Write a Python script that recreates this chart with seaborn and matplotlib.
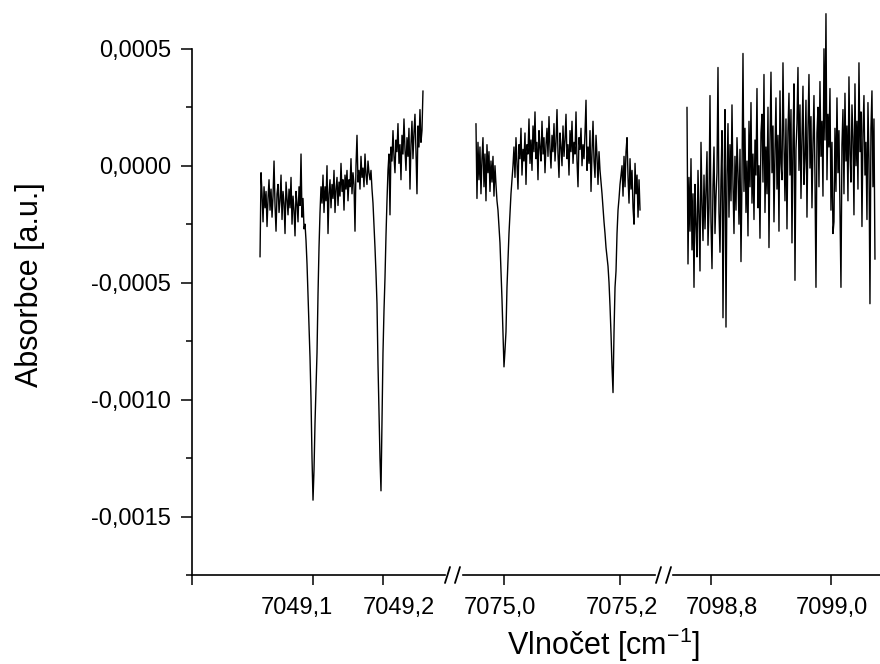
import numpy as np
import pandas as pd
import matplotlib
matplotlib.use("Agg")
import matplotlib.pyplot as plt
from matplotlib.lines import Line2D
from matplotlib.ticker import FixedLocator, FuncFormatter
from matplotlib.transforms import ScaledTranslation
import seaborn as sns

# Absorbance values in units of 1e-4, one list per measured window
SCALE = 1e-4

seg1_range = (7049.0243, 7049.2571)
seg1_abs = [
    -3.9,
    -0.3, -1.2, -2.4, -0.9, -1.8, -1.1, -2.6, -1.4, -0.6, -1.9,
    -1.0, -2.2, -1.3, 0.2, -1.7, -2.8, -1.2, -0.8, -2.0, -1.5,
    -0.4, -2.3, -1.1, -1.6, -2.9, -0.7, -1.4, -2.1, -1.0, -1.8,
    -0.5, -2.5, -1.3, -1.9, -3.0, -1.1, -1.6, -2.4, -0.9, -1.7,
    0.5, -2.2, -1.4, -2.7,
    -2.5, -3.2, -4.2, -5.5, -6.8, -8.2, -10.0, -12.5, -14.3, -13.0,
    -11.0, -9.5, -8.0, -5.5, -3.5, -2.0, -0.9,
    -1.6, -0.4, -2.0, -0.9, -1.5, 0.0, -2.9, -1.2, -0.6, -1.8,
    -0.8, -1.4, -0.2, -2.0, -1.0, -0.5, -1.7, -0.7, -1.3, 0.1,
    -1.1, -0.6, -1.9, -0.4, -1.0, -0.2, -1.5, -0.6, -0.9, 0.3,
    -1.2, -0.3, -0.8, -2.8, 0.0, 1.3, -0.7, -0.2, -1.0, 0.4,
    -0.5, -0.1, -0.9, 0.5, -0.4, -0.8, 0.2, -0.3, -0.6, -0.2,
    -1.0, -1.6, -2.5, -3.5, -4.6, -5.9, -8.5, -10.5, -12.5, -13.9,
    -11.0, -8.0, -6.2, -4.8, -3.0, -1.5, -0.2, 0.5,
    -2.1, 0.8, 0.2, 1.5, 0.4, -0.3, 1.1, 0.6, 1.8, 0.1,
    0.9, -0.6, 1.3, 0.5, 2.0, 0.7, -0.2, 1.2, 0.4, 1.6,
    -1.0, 0.9, 1.9, 0.3, 1.4, 2.2, 0.6, -1.2, 1.7, 0.8,
    2.4, 1.0, 1.5, 3.2,
]

seg2_range = (7074.9517, 7075.2345)
seg2_abs = [
    1.8, -1.4, 1.0, -0.6, 0.8, -1.2, 0.3, 1.2, -0.9, 0.5,
    -1.5, 0.9, -0.3, 0.6, -1.1, 0.2, -0.7, 0.4, -1.3, 0.0,
    -0.8, -1.5,
    -1.9, -2.6, -3.3, -4.5, -5.7, -7.1, -8.6, -7.9, -7.1, -5.2,
    -4.0, -2.9, -2.0, -1.2, -0.6, 0.0,
    0.8, -0.5, 1.2, 0.1, -1.0, 0.9, 0.3, 1.6, -0.4, 0.7,
    0.2, 1.4, -0.8, 0.9, 0.5, 2.0, 0.1, 1.1, -0.2, 1.7,
    0.6, 2.3, 0.3, 1.0, -0.6, 1.5, 0.8, 0.2, 1.9, 0.5,
    1.2, -0.3, 0.9, 1.6, 0.4, 2.1, 0.7, -0.1, 1.3, 0.6,
    1.8, 0.2, 1.0, 2.4, 0.5, -0.5, 1.4, 0.8, 0.0, 1.7,
    0.4, 1.1, 2.2, 0.3, 0.9, -0.4, 1.5, 0.6, 1.9, 0.1,
    1.0, 0.5, 2.3, 0.2, -0.9, 1.2, 0.7, 1.6, 0.0, 0.9,
    0.3, 1.4, 2.8, -0.2, 0.8, 0.1, 1.5, -1.1, 0.6, 1.9,
    0.2, -0.5, 1.3, 0.4, -0.8, 0.6,
    -0.2, -0.7, -1.2, -1.8, -2.4, -2.9, -3.5, -3.9, -4.3, -5.0,
    -6.0, -7.2, -8.6, -9.7, -7.1, -5.2, -4.5, -2.9, -1.9, -1.4,
    -0.8, -0.4,
    0.0, -1.3, 0.4, -0.9, 0.6, 1.2, -0.5, -1.6, 0.3, -1.0,
    -0.2, -1.8, -2.5, 0.1, -1.2, -0.4, -2.2, -0.6, -1.9,
]

seg3_range = (7098.76, 7099.0733)
seg3_abs = [
    2.5, -4.2, -0.5, -2.8, 0.3, -3.6, -1.2, -5.2, -0.8, -2.5,
    -3.9, -0.2, -2.1, -4.5, 1.0, -1.6, -3.2, -0.4, -2.7, -1.0,
    0.6, -3.4, -1.8, 3.0, -2.4, -4.4, -0.9, 0.8, -2.9, -1.3,
    -0.3, 4.2, -2.0, -3.7, -0.6, 1.5, -6.5, -1.0, 2.4, -6.9,
    -0.4, 1.8, -2.2, 0.9, -1.5, 2.6, -0.8, -2.9, 0.4, -1.9,
    1.2, -0.3, -2.5, 0.7, -4.1, -0.5, 4.8, -1.1, 1.6, -2.0,
    0.2, -3.0, 1.9, -0.9, 2.7, -1.6, 0.5, -2.3, 1.1, -0.4,
    3.3, -1.8, 0.0, -3.1, 1.4, 2.2, -0.7, 3.9, -2.0, 0.8,
    -1.2, 2.5, -3.5, 1.0, 4.0, -0.3, 1.7, -2.4, 0.6, 2.9,
    -1.0, 1.3, -2.8, 3.2, 0.1, -0.6, 4.4, 0.9, -1.5, 2.0,
    -2.7, 1.5, 3.1, -0.4, 2.4, -3.3, 1.0, 3.5, -4.9, 0.7,
    1.8, 4.2, -0.2, 2.6, -1.4, 1.2, 3.4, -0.8, 0.3, 2.8,
    -2.2, 1.6, 3.9, -0.1, 2.1, -1.8, 0.9, 3.0, -0.5, -5.2,
    1.4, 2.5, -0.9, 3.6, 0.4, 1.9, -1.3, 5.0, 1.1, 6.5,
    -0.6, 2.2, 0.8, 3.3, -1.9, 1.0, -2.9, -2.4, 1.6, -1.1,
    2.9, -0.3, 1.5, -2.0, -5.2, 0.9, 2.4, -1.2, 3.1, 0.2,
    1.7, -1.5, 3.8, 0.5, -0.7, 2.6, 1.2, -2.1, 3.5, 0.0,
    1.9, -1.0, 4.4, 0.6, 2.3, -2.6, 1.4, 3.0, -0.4, 1.0,
    -2.3, 2.7, 0.3, -5.9, 1.6, 3.2, -0.9, 2.0, -4.0,
]

# Visible wavenumber window of each axis panel and its labelled ticks
seg_xlims = [(7048.9271, 7049.3), (7074.9121, 7075.2741), (7098.72, 7099.0817)]
seg_ticks = [[7049.1, 7049.2], [7075.0, 7075.2], [7098.8, 7099.0]]
seg_ticklabels = [["7049,1", "7049,2"], ["7075,0", "7075,2"], ["7098,8", "7099,0"]]
# horizontal nudges of the tick labels (pixels) so neighbours do not collide
seg_label_shift = [[-16, 16], [-4, 2], [11, 1]]

y_major = [-0.0015, -0.0010, -0.0005, 0.0, 0.0005]
y_minor = [-0.00175, -0.00125, -0.00075, -0.00025, 0.00025]

sns.set_style("ticks")
plt.rcParams["font.family"] = ["Liberation Sans", "DejaVu Sans"]
plt.rcParams["mathtext.fontset"] = "custom"
plt.rcParams["mathtext.rm"] = "Liberation Sans"
plt.rcParams["mathtext.it"] = "Liberation Sans:italic"
plt.rcParams["text.color"] = "black"
plt.rcParams["axes.edgecolor"] = "black"

W, H = 880, 664
fig = plt.figure(figsize=(W / 100, H / 100), dpi=100)

# panel pixel extents (left, right) along the broken axis
panels_px = [(192, 453), (453, 663), (663, 880)]
axis_y_px = 575
top_px = 2
ylim = (-0.00175, 0.0007)

segments = [
    (seg1_range, seg1_abs),
    (seg2_range, seg2_abs),
    (seg3_range, seg3_abs),
]

# drawn stretches of the bottom line, leaving gaps at the breaks (pixels)
line_spans_px = [(192, 445), (463, 655), (673, 880)]

TICK_FS = 17
LABEL_FS = 22

for k, ((x0, x1), (rng, vals)) in enumerate(zip(panels_px, segments)):
    ax = fig.add_axes([x0 / W, 1 - axis_y_px / H, (x1 - x0) / W,
                       (axis_y_px - top_px) / H])
    df = pd.DataFrame({
        "wavenumber": np.linspace(rng[0], rng[1], len(vals)),
        "absorbance": np.array(vals) * SCALE,
    })
    sns.lineplot(data=df, x="wavenumber", y="absorbance", ax=ax,
                 color="black", linewidth=1.0, sort=False)
    ax.set_xlim(*seg_xlims[k])
    ax.set_ylim(*ylim)
    ax.set_xlabel("")
    ax.set_ylabel("")
    ax.patch.set_alpha(0)
    for s in ("top", "right"):
        ax.spines[s].set_visible(False)
    xl = seg_xlims[k]

    def px2x(p, x0=x0, x1=x1, xl=xl):
        return xl[0] + (p - x0) / (x1 - x0) * (xl[1] - xl[0])

    sx0, sx1 = line_spans_px[k]
    ax.spines["bottom"].set_bounds(px2x(sx0), px2x(min(sx1, x1)))
    ax.spines["bottom"].set_linewidth(1.2)
    ax.spines["bottom"].set_color("black")
    ticks = list(seg_ticks[k])
    labels = list(seg_ticklabels[k])
    shifts = list(seg_label_shift[k])
    if k == 0:
        ticks = [xl[0]] + ticks
        labels = [""] + labels
        shifts = [0] + shifts
    ax.set_xticks(ticks)
    ax.set_xticklabels(labels)
    ax.tick_params(axis="x", direction="out", length=7.5, width=1.1,
                   labelsize=TICK_FS, pad=8, colors="black")
    for lab, dx in zip(ax.get_xticklabels(), shifts):
        lab.set_transform(lab.get_transform() +
                          ScaledTranslation(dx / 100, 0, fig.dpi_scale_trans))
    if k == 0:
        ax.spines["left"].set_bounds(ylim[0], 0.0005)
        ax.spines["left"].set_linewidth(1.2)
        ax.spines["left"].set_color("black")
        ax.yaxis.set_major_locator(FixedLocator(y_major))
        ax.yaxis.set_minor_locator(FixedLocator(y_minor))
        ax.yaxis.set_major_formatter(
            FuncFormatter(lambda v, p: f"{v:.4f}".replace(".", ",")))
        ax.tick_params(axis="y", which="major", direction="out", length=8,
                       width=1.1, labelsize=TICK_FS, pad=7, colors="black")
        ax.tick_params(axis="y", which="minor", direction="out", length=4.3,
                       width=1.1, colors="black")
    else:
        ax.spines["left"].set_visible(False)
        ax.set_yticks([])

# double-slash break marks on the x axis
for c in (453, 664):
    for dx in (-8, 2):
        fig.add_artist(Line2D([(c + dx) / W, (c + dx + 5) / W],
                              [1 - 583 / H, 1 - 567 / H],
                              transform=fig.transFigure, color="black",
                              linewidth=1.3))

fig.text(604 / W, 1 - 645 / H, "Vlnočet [cm$^{-1}$]", ha="center",
         va="center", fontsize=LABEL_FS, color="black")
fig.text(30 / W, 1 - 285 / H, "Absorbce [a.u.]", ha="center", va="center",
         rotation=90, fontsize=LABEL_FS, color="black")

fig.savefig("out.png", dpi=100, facecolor="white")
